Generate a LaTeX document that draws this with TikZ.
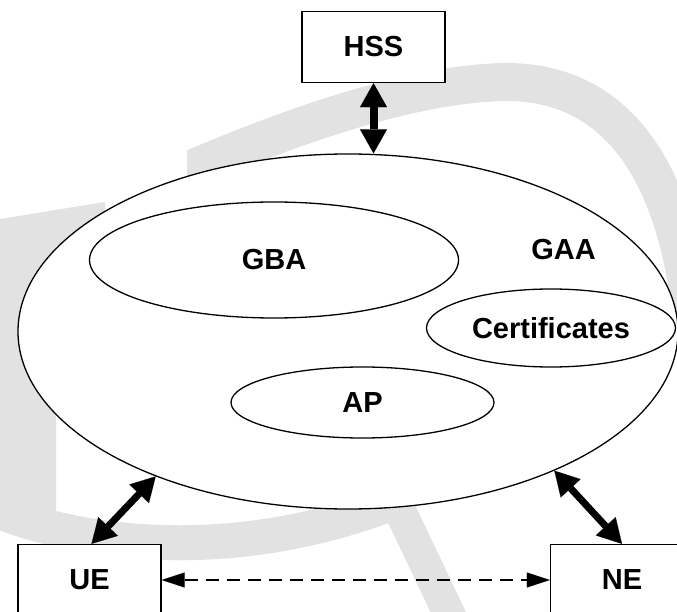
\documentclass[tikz,border=0pt]{standalone}
\usepackage{fontspec}
\setmainfont{Liberation Sans}
\usetikzlibrary{arrows.meta,shapes.geometric}
\definecolor{wmgray}{gray}{0.885}
\begin{document}
\begin{tikzpicture}[x=1pt,y=-1pt,
  font=\fontsize{29}{34}\selectfont\bfseries,
  box/.style={draw, fill=white, line width=1.3pt, minimum width=143pt, minimum height=71pt, inner sep=0pt},
  oval/.style={ellipse, draw, fill=white, line width=1.3pt, inner sep=0pt},
  lbl/.style={inner sep=0pt},
  bigtip/.style={Triangle[length=24pt,width=27pt,line width=0.1pt]},
  bigarrow/.style={line width=8pt, {Triangle[length=24pt,width=27pt,line width=0.1pt]}-{Triangle[length=24pt,width=27pt,line width=0.1pt]}},
  dasharrow/.style={line width=1.5pt, dash pattern=on 13pt off 8pt, {Triangle[length=23pt,width=15pt,line width=0.1pt]}-{Triangle[length=23pt,width=15pt,line width=0.1pt]}},
  wm/.style={draw=wmgray, line width=38pt}]
\useasboundingbox (0,0) rectangle (677,612);
\clip (0,0) rectangle (677,612);
% watermark
\begin{scope}
  \clip (187,0) rectangle (700,612);
  \draw[wm] (180,174) .. controls (300,122) and (420,82) .. (510,82) .. controls (610,84) and (675,160) .. (692,320);
\end{scope}
\fill[wmgray] (0,219) -- (105,202) -- (105,240) -- (56,246) -- (56,515) -- (4,522) -- (0,522) -- cycle;
\draw[wm, line width=35pt] (0,512) .. controls (100,550) and (250,560) .. (400,500);
\draw[wm, line width=32pt] (395,500) -- (452,620);
% main shapes
\node[oval, minimum width=660pt, minimum height=355pt] (gaa) at (348,331.5) {};
\node[oval, minimum width=369pt, minimum height=116pt] (gba) at (274,260) {GBA};
\node[oval, minimum width=249pt, minimum height=78pt] (cert) at (551,328) {Certificates};
\node[oval, minimum width=263pt, minimum height=71pt] (ap) at (362.5,402.5) {AP};
\node[lbl] (gaalbl) at (563.5,250) {GAA};
\node[box] (hss) at (373.5,47) {HSS};
\node[box] (ue) at (89.5,580) {UE};
\node[box] (ne) at (622,580) {NE};
% connectors
\draw[bigarrow] (hss.south) -- (hss.south |- gaa.north);
\draw[bigarrow, line width=7pt] ([xshift=2pt]ue.north) -- (gaa.217);
\draw[bigarrow, line width=7pt] (ne.north) -- (gaa.-34.5);
\draw[dasharrow] (ue.east) -- (ne.west);
\end{tikzpicture}
\end{document}
